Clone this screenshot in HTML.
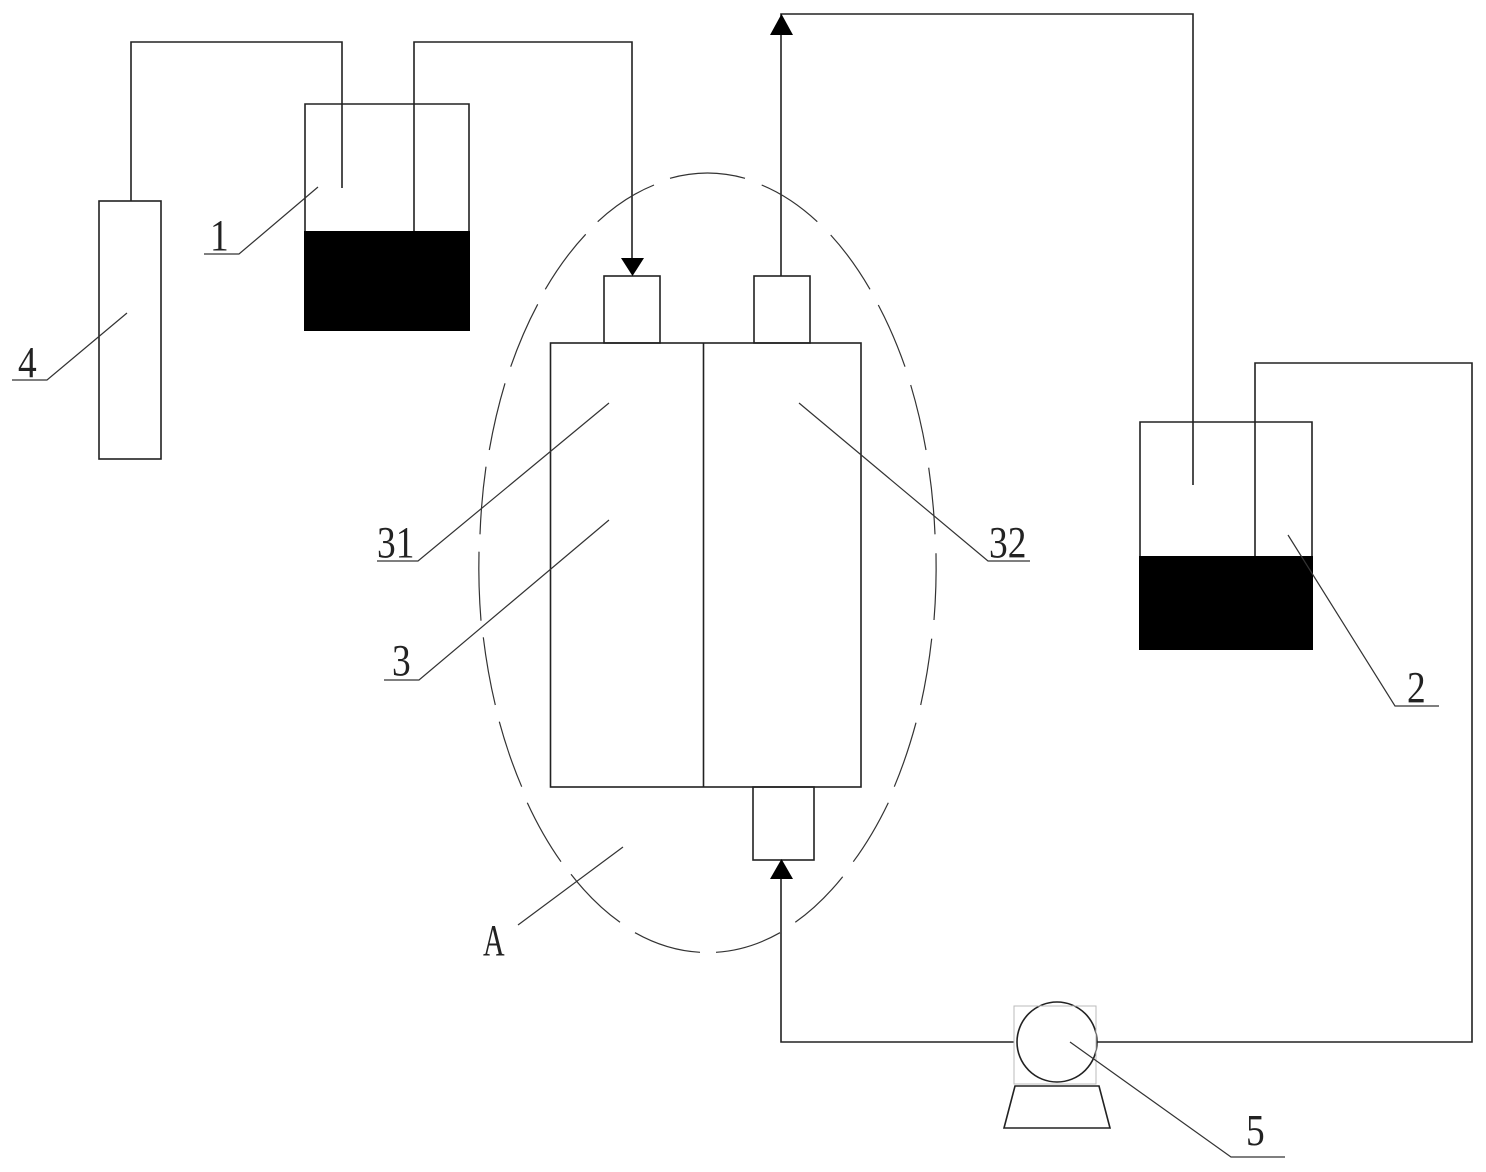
<!DOCTYPE html>
<html>
<head>
<meta charset="utf-8">
<style>
html,body{margin:0;padding:0;background:#fff;width:1486px;height:1172px;overflow:hidden}
svg{display:block}
text{font-family:"Liberation Serif",serif;font-size:44px;fill:#222}
</style>
</head>
<body>
<svg width="1486" height="1172" viewBox="0 0 1486 1172" xmlns="http://www.w3.org/2000/svg">
<g fill="none" stroke="#222" stroke-width="1.6">
  <!-- cell 4 and tubing -->
  <rect x="99" y="201" width="62" height="258"/>
  <polyline points="131,201 131,42 342,42 342,188"/>
  <polyline points="414,231 414,42 632,42 632,262"/>
  <!-- vessel 1 -->
  <polyline points="305,231 305,104 469,104 469,231"/>
  <!-- reactor -->
  <rect x="550.500" y="343" width="310.500" height="444"/>
  <line x1="703.500" y1="343" x2="703.500" y2="787"/>
  <rect x="604" y="276" width="56" height="67"/>
  <rect x="754" y="276" width="56" height="67"/>
  <rect x="753" y="787" width="61" height="73"/>
  <!-- return line -->
  <polyline points="781,276 781,14 1193,14 1193,485"/>
  <!-- vessel 2 -->
  <polyline points="1140,556 1140,422 1312,422 1312,556"/>
  <polyline points="1255,556 1255,363 1472,363 1472,1042 1097,1042"/>
  <polyline points="1014,1042 781,1042 781,874"/>
  <!-- pump -->
  <circle cx="1057" cy="1042" r="40"/>
  <polygon points="1015,1086 1099,1086 1110,1128 1004,1128"/>
</g>
<!-- dashed ellipse, drawn dash by dash -->
<g fill="none" stroke="#333" stroke-width="1.2">
  <path d="M670,178.300A229,390 0 0 1 745,178.300"/>
  <path d="M761.700,185A229,390 0 0 1 817.300,221.700"/>
  <path d="M830.700,235A229,390 0 0 1 870,289.300"/>
  <path d="M878.300,305A229,390 0 0 1 905,366.700"/>
  <path d="M910.700,385A229,390 0 0 1 926,450"/>
  <path d="M928.700,467.700A229,390 0 0 1 935,534.300"/>
  <path d="M936,553.300A229,390 0 0 1 934,620"/>
  <path d="M931.700,638.700A229,390 0 0 1 920.700,705"/>
  <path d="M916,722.700A229,390 0 0 1 894.300,786.700"/>
  <path d="M888.300,802.700A229,390 0 0 1 853.300,861.700"/>
  <path d="M842.700,876.700A229,390 0 0 1 795.300,922.300"/>
  <path d="M780,932.700A229,390 0 0 1 716,952.300"/>
  <path d="M700,952.300A229,390 0 0 1 635,932.700"/>
  <path d="M620,922.300A229,390 0 0 1 571,874.300"/>
  <path d="M561,861.700A229,390 0 0 1 527.300,802.700"/>
  <path d="M521.700,786.700A229,390 0 0 1 499.300,721.700"/>
  <path d="M495.300,705A229,390 0 0 1 483.300,637.300"/>
  <path d="M481,620.700A229,390 0 0 1 479,551.700"/>
  <path d="M480,534.300A229,390 0 0 1 486,466.700"/>
  <path d="M489.300,450A229,390 0 0 1 505,383.300"/>
  <path d="M510.700,366.700A229,390 0 0 1 537.700,304.300"/>
  <path d="M545.300,289.300A229,390 0 0 1 585.700,234.300"/>
  <path d="M597.700,221.700A229,390 0 0 1 654,185"/>
</g>
<rect x="1014" y="1006" width="82" height="78" fill="none" stroke="#bbb" stroke-width="1"/>
<!-- fills -->
<rect x="304" y="231" width="166" height="100" fill="#000"/>
<rect x="1139" y="556" width="174" height="94" fill="#000"/>
<!-- arrowheads -->
<polygon points="621,258 644,258 632.500,276" fill="#000"/>
<polygon points="770,35 793,35 781.500,14" fill="#000"/>
<polygon points="770,879 793,879 781.500,859" fill="#000"/>
<!-- leaders -->
<g fill="none" stroke="#333" stroke-width="1.2">
  <polyline points="204,254 239,254 318,187"/>
  <polyline points="12,380 47,380 127,313"/>
  <polyline points="377,561 418,561 609,403"/>
  <polyline points="384,680 419,680 609,520"/>
  <polyline points="1030,561 988,561 799,403"/>
  <polyline points="1439,706 1395,706 1288,535"/>
  <polyline points="518,925 623,847"/>
  <polyline points="1285,1157 1231,1157 1070,1042"/>
</g>
<!-- labels -->
<text transform="translate(210,250) scale(0.85,1)">1</text>
<text transform="translate(18,377) scale(0.85,1)">4</text>
<text transform="translate(377,557) scale(0.85,1)">31</text>
<text transform="translate(392,675) scale(0.85,1)">3</text>
<text transform="translate(989,557) scale(0.85,1)">32</text>
<text transform="translate(1407,702) scale(0.85,1)">2</text>
<text transform="translate(1246,1145) scale(0.85,1)">5</text>
<text transform="translate(483,955) scale(0.68,1)">A</text>
</svg>
</body>
</html>
